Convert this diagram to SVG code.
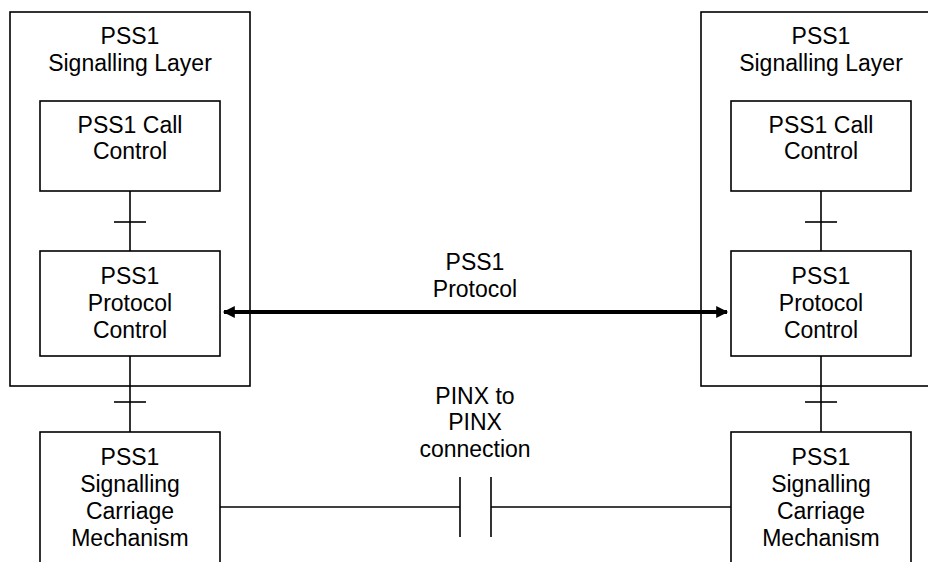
<svg xmlns="http://www.w3.org/2000/svg" width="928" height="562" viewBox="0 0 928 562">
<style>
.box{fill:none;stroke:#000;stroke-width:1.6}
.ln{fill:none;stroke:#000;stroke-width:1.6}
.thick{fill:none;stroke:#000;stroke-width:4}
text{font-family:"Liberation Sans",Arial,sans-serif;font-size:23px;fill:#000;text-anchor:middle}
</style>
<defs>
<marker id="ah" viewBox="0 0 10 10" refX="9" refY="5" markerWidth="4.5" markerHeight="3" orient="auto-start-reverse" markerUnits="strokeWidth">
<path d="M0,0 L10,5 L0,10 Z" fill="#000"/>
</marker>
</defs>
<rect width="928" height="562" fill="#fff"/>
<g id="left-layer">
<rect class="box" x="10" y="12" width="240" height="374"/>
<text x="130" y="44">PSS1</text>
<text x="130" y="71">Signalling Layer</text>
</g>
<g id="left-call">
<rect class="box" x="40" y="101" width="180" height="90"/>
<text x="130" y="133">PSS1 Call</text>
<text x="130" y="159">Control</text>
</g>
<g id="left-protocol">
<rect class="box" x="40" y="251" width="180" height="105"/>
<text x="130" y="284">PSS1</text>
<text x="130" y="311">Protocol</text>
<text x="130" y="338">Control</text>
</g>
<g id="left-carriage">
<rect class="box" x="40" y="432" width="180" height="140"/>
<text x="130" y="465">PSS1</text>
<text x="130" y="492">Signalling</text>
<text x="130" y="519">Carriage</text>
<text x="130" y="546">Mechanism</text>
</g>
<g id="right-layer">
<rect class="box" x="701" y="12" width="240" height="374"/>
<text x="821" y="44">PSS1</text>
<text x="821" y="71">Signalling Layer</text>
</g>
<g id="right-call">
<rect class="box" x="731" y="101" width="180" height="90"/>
<text x="821" y="133">PSS1 Call</text>
<text x="821" y="159">Control</text>
</g>
<g id="right-protocol">
<rect class="box" x="731" y="251" width="180" height="105"/>
<text x="821" y="284">PSS1</text>
<text x="821" y="311">Protocol</text>
<text x="821" y="338">Control</text>
</g>
<g id="right-carriage">
<rect class="box" x="731" y="432" width="180" height="140"/>
<text x="821" y="465">PSS1</text>
<text x="821" y="492">Signalling</text>
<text x="821" y="519">Carriage</text>
<text x="821" y="546">Mechanism</text>
</g>
<g id="connectors">
<line class="ln" x1="130" y1="191" x2="130" y2="251"/>
<line class="ln" x1="114" y1="222" x2="146" y2="222"/>
<line class="ln" x1="130" y1="356" x2="130" y2="432"/>
<line class="ln" x1="114" y1="402" x2="146" y2="402"/>
<line class="ln" x1="821" y1="191" x2="821" y2="251"/>
<line class="ln" x1="805" y1="222" x2="837" y2="222"/>
<line class="ln" x1="821" y1="356" x2="821" y2="432"/>
<line class="ln" x1="805" y1="402" x2="837" y2="402"/>
<line class="thick" x1="224" y1="312" x2="727" y2="312" marker-start="url(#ah)" marker-end="url(#ah)"/>
<line class="ln" x1="220" y1="507" x2="460" y2="507"/>
<line class="ln" x1="460" y1="477" x2="460" y2="537"/>
<line class="ln" x1="491" y1="477" x2="491" y2="537"/>
<line class="ln" x1="491" y1="507" x2="731" y2="507"/>
</g>
<g id="labels">
<text x="475" y="270">PSS1</text>
<text x="475" y="297">Protocol</text>
<text x="475" y="404">PINX to</text>
<text x="475" y="430">PINX</text>
<text x="475" y="457">connection</text>
</g>
</svg>
